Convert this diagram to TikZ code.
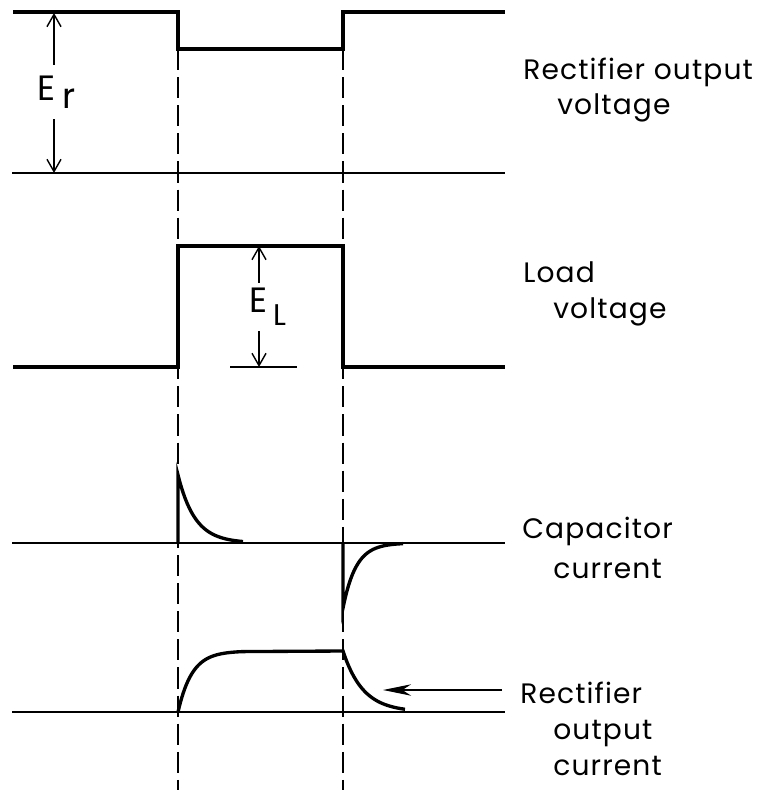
\documentclass[tikz,border=0pt]{standalone}
\usepackage{fontspec}
\newfontfamily\lblfont{Poppins}[LetterSpace=4]
\usetikzlibrary{arrows.meta}
\tikzset{
  wave/.style={line width=1.9pt},
  axis/.style={line width=0.9pt},
  guide/.style={line width=0.75pt, dash pattern=on 12pt off 4pt},
  dimarr/.style={line width=0.8pt, -{Straight Barb[length=7pt,width=8pt]}},
  ptrarr/.style={line width=0.9pt, -{Stealth[length=16pt,width=6.5pt,inset=5pt]}},
  lbl/.style={font=\lblfont\fontsize{16}{19}\selectfont, anchor=base west, inner sep=0pt},
  elbl/.style={font=\lblfont\fontsize{20}{22}\selectfont, inner xsep=1pt, inner ysep=6pt},
}

\begin{document}
\begin{tikzpicture}[x=0.02cm, y=-0.02cm]
\useasboundingbox (0,0) rectangle (763,790);

\coordinate (t1) at (178,49);
\coordinate (b1) at (178,790);
\coordinate (t2) at (343,49);
\coordinate (b2) at (343,790);
\draw[guide] (t1) -- (b1);
\draw[guide] (t2) -- (b2);

\draw[wave] (13,12) -| (178,49) -| (343,12) -- (505,12);
\draw[axis] (12,173) -- (505,173);

\draw[wave] (13,367) -| (178,246) -| (343,367) -- (505,367);

\draw[axis] (12,543) -- (505,543);
\draw[wave] (178,543) -- (178,475) -- plot[domain=0:65,samples=50] ({178+\x},{543-68*exp(-\x/17)});
\draw[wave] (343,543) -- (343,608) -- plot[domain=0:60,samples=50] ({343+\x},{543+65*exp(-\x/13)});

\draw[axis] (12,712) -- (505,712);
\draw[wave] plot[domain=0:65,samples=50] ({178+\x},{712-61*(1-exp(-\x/14))}) -- (343,651)
  -- plot[domain=0:62,samples=50] ({343+\x},{712-61*exp(-\x/20)});

\coordinate (ErT) at (54,13);
\coordinate (ErB) at (54,173);
\node[elbl] (Er) at (57,92) {E\hspace{4pt}\raisebox{-4.5pt}{r}};
\draw[dimarr] (Er.north -| ErT) -- (ErT);
\draw[dimarr] (Er.south -| ErB) -- (ErB);

\coordinate (ELT) at (259,246);
\coordinate (ELB) at (259,367);
\coordinate (ELl) at (230,367);
\coordinate (ELr) at (297,367);
\draw[axis] (ELl) -- (ELr);
\node[elbl, inner ysep=3pt] (EL) at (268,307) {E\hspace{3pt}\raisebox{-7.5pt}{\fontsize{17}{19}\selectfont L}};
\draw[dimarr] (EL.north -| ELT) -- (ELT);
\draw[dimarr] (EL.south -| ELB) -- (ELB);

\coordinate (pS) at (502,690);
\coordinate (pE) at (383,690);
\draw[ptrarr] (pS) -- (pE);

\node[lbl] (rov1) at (523,80) {Rectifier output};
\node[lbl] (rov2) at (557,115) {voltage};
\node[lbl] (lv1) at (523,282) {Load};
\node[lbl] (lv2) at (553,318) {voltage};
\node[lbl] (cc1) at (522,538) {Capacitor};
\node[lbl] (cc2) at (553,578) {current};
\node[lbl] (roc1) at (520,703) {Rectifier};
\node[lbl] (roc2) at (553,739) {output};
\node[lbl] (roc3) at (553,775) {current};
\end{tikzpicture}
\end{document}
